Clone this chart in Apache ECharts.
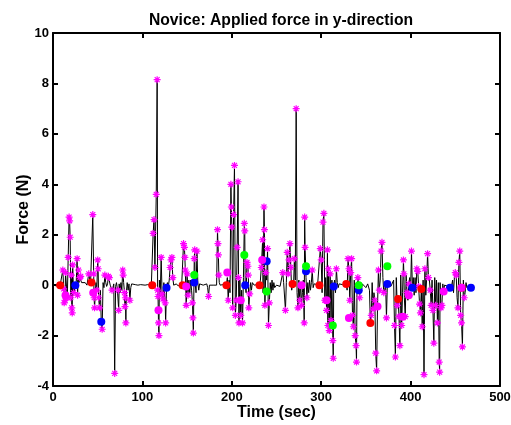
<!DOCTYPE html>
<html><head><meta charset="utf-8">
<script src="https://cdn.jsdelivr.net/npm/echarts@6/dist/echarts.min.js"></script>
<style>html,body{margin:0;padding:0;background:#fff}#c{width:511px;height:425px}</style>
</head><body><div id="c"></div>
<script>
// Axis ticks
const xTicks = [0, 100, 200, 300, 400, 500];
const yTicks = [-4, -2, 0, 2, 4, 6, 8, 10];

// Peak samples (marked with magenta asterisks) [time s, force N]
const starPoints = [
  [11,0.6],[12,-0.15],[12.5,-0.7],[13.5,-0.6],[14,0.5],[16,-0.5],[17,1.1],[18,2.7],[18.6,2.55],[19.2,1.9],
  [20,-0.5],[20.5,0.4],[21,-0.9],[21.5,-1.1],[22,0.8],[23,-0.3],[27,1.05],[27.5,-0.4],[28.5,0.6],[30,0.3],[31,0.35],
  [40,0.45],[44.5,2.8],[45.5,0.45],[46,-0.5],[46.5,-0.9],[49,-0.2],[50,1.0],[50.5,0.65],[51,-0.5],[52,-0.9],
  [55,-1.75],[58,0.4],[62,0.35],[63,0.3],
  [66,-0.2],[69,-3.5],[73,-0.2],[73.5,-1.0],[78,0.6],[78.5,0.4],[80,-0.3],[80.5,-0.85],[81,-0.5],[81.5,-1.5],[86,-0.6],
  [112,2.05],[113,2.6],[114,0.7],[115.5,3.6],[116.5,8.15],[117,-0.2],[117.5,-0.45],[118,-1.5],[118.5,-2.0],
  [121,1.1],[122,-0.35],[123,-0.55],[125.5,-0.7],[126,-1.5],
  [131,0.7],[132,1.0],[133,1.1],[134,0.3],[146,1.65],[147,1.5],[147.5,1.1],[148,0.6],[149,-0.8],[150,0.45],
  [151,-0.4],[156,-0.7],[156.5,-1.3],[157,-1.9],[158,1.05],[158.5,1.4],[161,1.35],
  [174,-0.45],[184,2.2],[184.5,1.65],[185,1.2],[185.5,0.4],[196,-0.6],[199,4.0],[199.5,3.1],[200,2.3],
  [201,-0.9],[202,2.8],[203,4.75],[204,-1.2],[205,-0.6],[206,1.5],[207,4.1],[207.5,0.3],[208,-1.5],
  [210,-1.2],[212,-1.5],[214,2.45],[214.5,2.15],[217,0.9],[218,0.75],[218.5,0.4],[219,-0.9],[220,-0.35],
  [233,0.7],[234.5,1.8],[236,3.1],[236.5,2.2],[237,-0.8],[238,0.5],[240,1.45],[241,-1.6],[242,-0.7],
  [257,0.5],[260,-1.0],[262,1.3],[263,0.45],[264,1.0],[265,1.65],[266,0.7],[270,1.05],[272,7.0],
  [274,-0.9],[276,-0.6],[278,-0.8],[281,-1.5],[281.5,2.7],[282,1.5],[284,-0.5],[290,0.6],
  [299,1.45],[300,1.0],[302,2.5],[303,2.85],[304,-0.6],[306,-1.0],[307,1.4],[307.5,-1.6],[308,0.65],
  [309,-1.8],[310,0.45],[311,-1.4],[313,-2.2],[313.5,-2.9],[317,0.65],
  [330,1.05],[331,0.65],[332,-0.6],[333,0.5],[334,1.05],[335,-1.2],[336,-1.65],[338,-2.0],[339,-2.4],
  [339.5,-3.05],[341,0.3],[343,-0.5],
  [356,-1.2],[358,-0.95],[360,-0.6],[361,-2.7],[362,-3.4],[364,0.6],[365,-0.2],[367,1.35],[368,1.7],
  [370,-0.3],[373,-1.3],
  [382,-1.6],[383,-2.85],[385,-0.8],[387,-1.25],[388,-2.4],[390,-1.6],[392,1.0],[392.5,0.45],[394,-1.25],
  [396,-0.3],[398,0.05],[401,1.35],
  [407,0.65],[408,0.55],[409,-0.05],[410,-0.75],[411,-1.1],[413,-1.65],[415,-3.55],[416,0.65],[419,1.25],
  [420,0.3],[422,-0.2],[423,-0.8],[425,-1.0],[426,-2.3],[428,-0.8],[430,-1.5],[432,-3.05],[432.5,-3.45],
  [434,-0.9],[435,-0.8],
  [450,0.5],[451,0.4],[453,-0.9],[454,0.9],[455,1.35],[456,-1.2],[457,-1.5],[458,-2.45],[460,-0.5]
];

// Other (unmarked) samples of the force trace [time s, force N]
const tracePoints = [
  [0,0],[2,0.02],[4,-0.03],[6,0.02],[8,0],[10,0.05],[24,-0.2],[25,0],[26,0.15],[29,0.1],[32,0.1],[34,0.05],
  [36,0.1],[38,0],[42,0.05],[43,0.1],[48,0.1],[53,-0.2],[54,-1.45],[56,0.1],[57,-0.1],[59,0.1],[60,-0.05],
  [61,0.05],[64,0],[65,0.05],[67,-0.1],[68,0.05],[70,-0.05],[71,0.1],[72,-0.15],[74,0.05],[75,-0.3],[76,0.1],
  [77,-0.2],[79,0.1],[82,-0.3],[83,0.1],[84,-0.2],[85,0.05],[87,-0.1],[88,0.05],[90,0],[92,0.02],[95,0],
  [98,0.02],[100,-0.02],[103,0],[106,0.02],[108,0],[110,0],[111,0.05],[119,0.2],[120,-0.3],[124,0.1],
  [127,-0.1],[128,0.1],[129,-0.05],[130,0.2],[135,0],[138,0.05],[140,-0.03],[142,0],[144,0.05],[145,0],
  [152,0.2],[153,-0.3],[154,0.2],[155,-0.2],[159,0.1],[160,-0.3],[162,0.1],[163,-0.2],[164,0.05],[166,0],
  [168,0],[170,-0.03],[172,0.05],[173,-0.1],[175,0],[177,0.02],[180,0],[182,0.05],[183,0],[186,0.1],
  [187,0],[190,0.02],[192,0],[194,0],[195,0.3],[197,0.2],[198,-0.3],[209,0.2],[211,-0.2],[213,0.3],
  [215,0],[216,-0.3],[221,0.1],[222,-0.2],[223,0.1],[225,0],[228,0.02],[231,0],[232,0.2],[235,-0.3],
  [239,0.2],[243,0.1],[244,-0.3],[245,0.2],[246,-0.2],[247,0.1],[248,-0.1],[250,0],[252,0.05],[254,-0.05],
  [256,0],[258,0.1],[261,0.1],[267,-0.2],[268,0.05],[269,-0.1],[271,0.2],[273,-0.3],[275,0.2],[277,0.1],
  [279,-0.3],[280,0.2],[283,0.3],[285,0.1],[286,-0.3],[287,0.2],[288,-0.2],[289,0.1],[291,-0.1],[292,0.05],
  [294,0],[296,0.02],[298,0],[301,-0.3],[305,0.3],[312,0.2],[314,-0.05],[315,0.2],[316,-0.3],[318,0.1],
  [319,-0.1],[320,0.05],[322,0],[324,0.02],[326,0],[328,0.05],[329,-0.2],[337,0.2],[340,-0.3],[342,0],
  [344,0.1],[345,-0.2],[346,0.05],[348,0],[350,-0.1],[352,0.05],[354,-0.2],[355,-1.5],[357,0.1],[359,-0.3],
  [363,-0.85],[366,0.2],[369,0.3],[371,-0.2],[372,0.1],[374,0.05],[376,0],[378,-0.05],[380,0],[381,0.2],
  [384,0.3],[386,-0.55],[389,0.4],[391,-0.3],[393,-0.5],[395,0.4],[397,-0.6],[399,0.3],[400,-0.2],
  [402,-0.1],[403,0.3],[404,-0.4],[405,0.3],[406,-0.3],[412,-0.15],[414,0.2],[417,-0.4],[418,0.3],
  [421,0.2],[424,0.2],[427,0.3],[429,0.2],[431,0.1],[433,0.1],[436,0.05],[437,-0.25],[438,0],[440,0],
  [442,-0.05],[444,-0.1],[446,0],[447,0.2],[448,-0.3],[449,0.3],[452,-0.5],[459,0.2],[461,-0.3],
  [462,0.1],[463,-0.1],[465,0],[467,-0.1],[470,-0.1]
];

// Event markers [time s, force N]
const redDots = [[8,0],[43,0.1],[111,0],[145,0],[194,0],[231,0],[268,0.05],[298,0],[328,0.05],[355,-1.5],[386,-0.55],[412,-0.15],[457,-0.1]];
const blueDots = [[25,0],[54,-1.45],[127,-0.1],[158,0.1],[215,0],[239,0.95],[283,0.55],[314,-0.05],[342,-0.2],[374,0.05],[402,-0.1],[444,-0.1],[467.5,-0.1]];
const greenDots = [[158,0.4],[214,1.2],[239,-0.25],[283,0.75],[313,-1.6],[342,0.0],[374,0.75]];
const magentaDots = [[14,-0.4],[45,-0.3],[118,-1.0],[149,-0.05],[195,0.5],[210,-0.6],[234,1.0],[278,0],[306,-0.6],[331,-1.3],[363,-0.85],[391,-1.25],[398,-0.4],[437,-0.25],[457,-0.1]];

const trace = starPoints.concat(tracePoints).sort((a, b) => a[0] - b[0]);

const FONT = '"Liberation Sans", Arial, sans-serif';
const chart = echarts.init(document.getElementById('c'), null, {renderer: 'canvas'});
const star = 'path://M0,-10L0,10M-10,0L10,0M-7,-7L7,7M-7,7L7,-7';
const axisCommon = {
  type: 'value',
  axisLine: {show: true, onZero: false, lineStyle: {color: '#000', width: 2}},
  axisTick: {show: true, inside: true, length: 5, lineStyle: {color: '#000', width: 2}},
  splitLine: {show: false}
};
const dot = (data, color) => ({
  type: 'scatter', data, symbol: 'circle', symbolSize: 8,
  itemStyle: {color, opacity: 1}, z: 5, silent: true
});
chart.setOption({
  animation: false,
  backgroundColor: '#fff',
  title: {
    text: 'Novice: Applied force in y-direction', left: 276, top: 8, textAlign: 'center',
    textStyle: {fontFamily: FONT, fontWeight: 'bold', fontSize: 15.7, color: '#000'}
  },
  grid: {left: 53, right: 11, top: 33, bottom: 39, containLabel: false, outerBoundsMode: 'none'},
  xAxis: [
    Object.assign({}, axisCommon, {
      min: xTicks[0], max: xTicks[xTicks.length - 1], interval: 100, position: 'bottom',
      name: 'Time (sec)', nameLocation: 'middle', nameGap: 19, nameMoveOverlap: false,
      nameTextStyle: {fontFamily: FONT, fontWeight: 'bold', fontSize: 16, color: '#000', verticalAlign: 'top'},
      axisLabel: {fontFamily: FONT, fontWeight: 'bold', fontSize: 13, color: '#000', margin: 5}
    }),
    Object.assign({}, axisCommon, {
      min: xTicks[0], max: xTicks[xTicks.length - 1], interval: 100, position: 'top',
      axisLabel: {show: false}
    })
  ],
  yAxis: [
    Object.assign({}, axisCommon, {
      min: yTicks[0], max: yTicks[yTicks.length - 1], interval: 2, position: 'left',
      name: 'Force (N)', nameLocation: 'middle', nameGap: 21, nameRotate: 90, nameMoveOverlap: false,
      nameTextStyle: {fontFamily: FONT, fontWeight: 'bold', fontSize: 16, color: '#000'},
      axisLabel: {fontFamily: FONT, fontWeight: 'bold', fontSize: 13, color: '#000', margin: 4}
    }),
    Object.assign({}, axisCommon, {
      min: yTicks[0], max: yTicks[yTicks.length - 1], interval: 2, position: 'right',
      axisLabel: {show: false}
    })
  ],
  series: [
    {type: 'line', data: trace, symbol: 'none', lineStyle: {color: '#000', width: 1}, z: 2, silent: true},
    {type: 'scatter', data: starPoints, symbol: star, symbolSize: 7,
     itemStyle: {color: 'none', borderColor: '#ff00ff', borderWidth: 1.2, opacity: 1}, z: 3, silent: true},
    dot(redDots, '#ff0000'),
    dot(blueDots, '#0000ff'),
    dot(greenDots, '#00ff00'),
    dot(magentaDots, '#ff00ff')
  ]
});
</script></body></html>
